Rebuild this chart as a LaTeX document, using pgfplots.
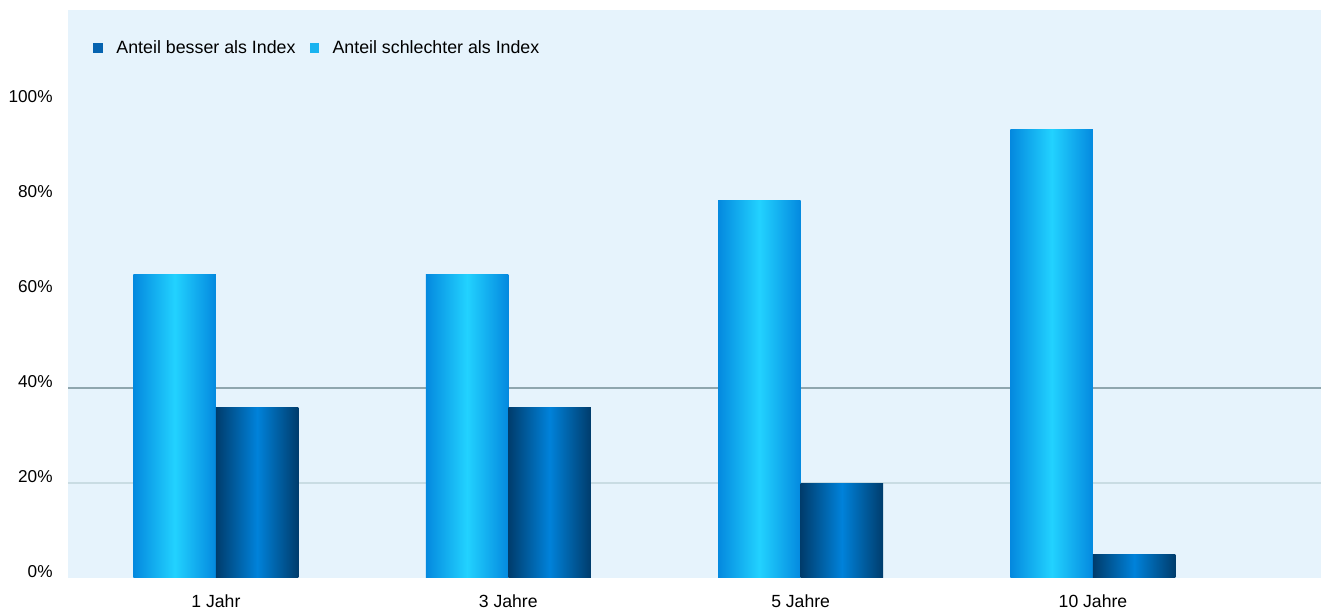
\documentclass[border=0pt]{standalone}
\usepackage{fontspec}
\setmainfont{Liberation Sans}
\usepackage{pgfplots}
\pgfplotsset{compat=1.18}
\definecolor{panel}{HTML}{E6F3FC}
\definecolor{gridA}{HTML}{8FA6AE}
\definecolor{gridB}{HTML}{C9DCE3}
\definecolor{lightEdge}{HTML}{0489DF}
\definecolor{lightMid}{HTML}{22D2FF}
\definecolor{darkEdge}{HTML}{003C6C}
\definecolor{darkMid}{HTML}{0082DA}
\definecolor{legDark}{HTML}{0663B0}
\definecolor{legLight}{HTML}{19B3F0}
\pgfplotsset{
  lightbar/.style={forget plot, draw=none, bar shift=-20.625pt,
    left color=lightEdge, right color=lightEdge, middle color=lightMid},
  darkbar/.style={forget plot, draw=none, bar shift=20.625pt,
    left color=darkEdge, right color=darkEdge, middle color=darkMid},
}
\begin{document}
\fontsize{8.8}{10}\selectfont
\begin{tikzpicture}
\begin{axis}[
  at={(0,0)}, anchor=south west,
  scale only axis, width=626.5pt, height=284pt,
  xmin=-0.506, xmax=3.78, ymin=0, ymax=119.6,
  axis background/.style={fill=panel},
  axis line style={draw=none},
  major tick length=0pt,
  xtick={0,1,2,3}, xticklabels={1 Jahr,3 Jahre,5 Jahre,10 Jahre},
  ytick={0,20,40,60,80,100}, yticklabels={0\%,20\%,40\%,60\%,80\%,100\%},
  yticklabel style={inner sep=0pt, xshift=-7.5pt, yshift=3pt, font=\fontsize{8.6}{10}\selectfont},
  xticklabel style={inner sep=0pt, yshift=-8pt, font=\fontsize{8.8}{10}\selectfont},
  ybar, bar width=41.25pt,
  legend style={at={(0.02,0.933)}, anchor=west, draw=none, fill=none,
    legend columns=-1, inner sep=0pt, font=\fontsize{8.9}{10}\selectfont,
    /tikz/every even column/.append style={column sep=5pt}},
]
\draw[gridB, line width=0.6pt] (axis cs:-0.506,20) -- (axis cs:3.78,20);
\draw[gridA, line width=0.8pt] (axis cs:-0.506,40) -- (axis cs:3.78,40);
\addlegendimage{legend image code/.code={\fill[legDark, draw=none] (0pt,-2.3pt) rectangle (4.6pt,2.3pt); \path[draw=none, fill=none] (0pt,0pt) rectangle (9.5pt,0.1pt);}}
\addlegendentry{Anteil besser als Index}
\addlegendimage{legend image code/.code={\fill[legLight, draw=none] (0pt,-2.3pt) rectangle (4.6pt,2.3pt); \path[draw=none, fill=none] (0pt,0pt) rectangle (9.5pt,0.1pt);}}
\addlegendentry{Anteil schlechter als Index}
% Anteil schlechter als Index
\addplot[lightbar] coordinates {(0,64)};
\addplot[lightbar] coordinates {(1,64)};
\addplot[lightbar] coordinates {(2,79.5)};
\addplot[lightbar] coordinates {(3,94.5)};
% Anteil besser als Index
\addplot[darkbar] coordinates {(0,36)};
\addplot[darkbar] coordinates {(1,36)};
\addplot[darkbar] coordinates {(2,20)};
\addplot[darkbar] coordinates {(3,5)};
\end{axis}
\pgfresetboundingbox
\path (-34pt,-15.5pt) rectangle (626.5pt,289pt);
\end{tikzpicture}
\end{document}
